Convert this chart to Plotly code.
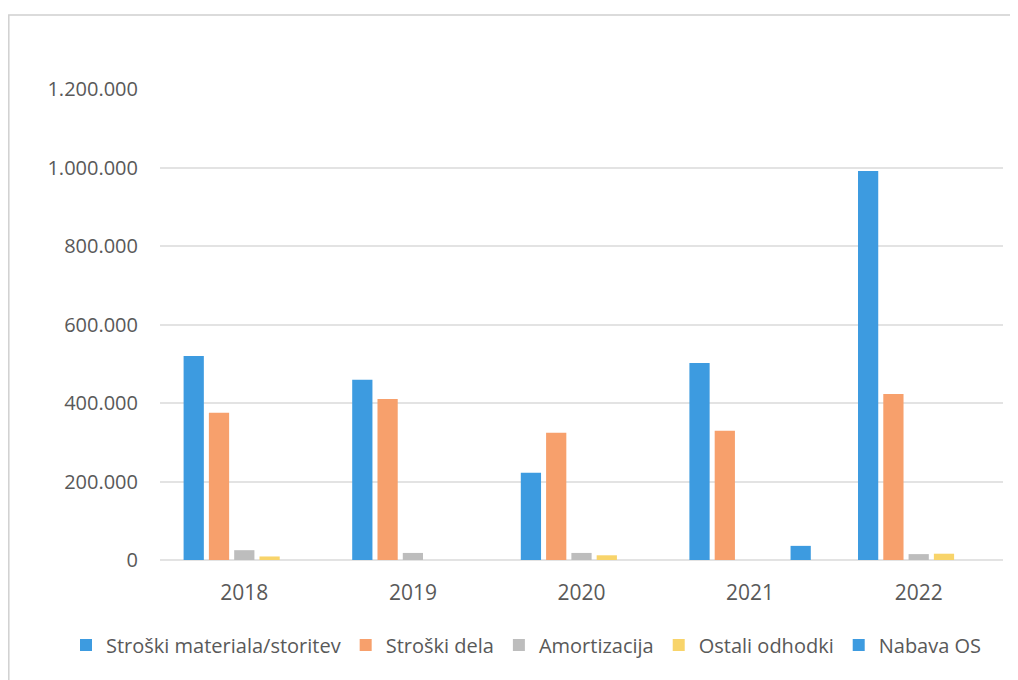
import plotly.graph_objects as go

years = ["2018", "2019", "2020", "2021", "2022"]
materiala = [520000, 459000, 222000, 502000, 991000]
dela = [375000, 410000, 324000, 329000, 423000]
amortizacija = [25000, 18000, 18000, 0, 15000]
ostali = [9000, 0, 12000, 0, 16000]
nabava = [0, 0, 0, 36000, 0]

names = ["Stroški materiala/storitev", "Stroški dela", "Amortizacija", "Ostali odhodki", "Nabava OS"]
colors = ["#3d9be0", "#f7a06c", "#bdbdbd", "#f8d46a", "#3d9be0"]
series = [materiala, dela, amortizacija, ostali, nabava]

fig = go.Figure()
for n, c, s in zip(names, colors, series):
    fig.add_trace(go.Bar(x=years, y=s, name=n, marker=dict(color=c, line=dict(width=0))))

tickvals = [0, 200000, 400000, 600000, 800000, 1000000, 1200000]
ticktext = ["0", "200.000", "400.000", "600.000", "800.000", "1.000.000", "1.200.000"]

L, T, R, B = 152, 81, 23, 128
W, H = 1018 - L - R, 680 - T - B

fig.update_layout(
    width=1018, height=680,
    paper_bgcolor="white", plot_bgcolor="white",
    margin=dict(l=L, r=R, t=T, b=B, autoexpand=False),
    barmode="group", bargap=0.25, bargroupgap=0.2,
    font=dict(family="Open Sans", color="#595959", size=20),
    showlegend=True,
    legend=dict(orientation="h", xref="paper", yref="paper",
                x=(58 - L) / W, xanchor="left", y=-(637 - (680 - B)) / H, yanchor="middle",
                font=dict(size=20, color="#595959"), itemwidth=30, tracegroupgap=0),
    xaxis=dict(showgrid=False, showline=False, ticks="", tickfont=dict(size=21),
               ticklabelstandoff=18),
    yaxis=dict(range=[0, 1200000], tickvals=tickvals, ticktext=ticktext,
               showgrid=True, gridcolor="#e3e3e3", gridwidth=1.5, zeroline=True,
               zerolinecolor="#e3e3e3", zerolinewidth=1.5, ticks="", ticklabelstandoff=21,
               tickfont=dict(size=20)),
    shapes=[dict(type="rect", xref="paper", yref="paper",
                 x0=(0.8 - L) / W, x1=(1030 - L) / W,
                 y0=1 + (T - 700) / H, y1=1 + (T - 7) / H,
                 line=dict(color="#d0d0d0", width=1.5))],
)

fig.write_html("out.html")
